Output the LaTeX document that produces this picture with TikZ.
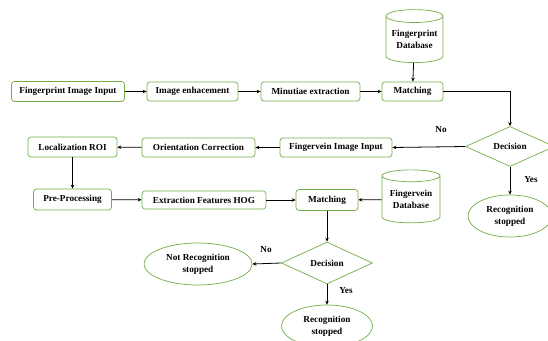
\documentclass[tikz,border=0pt]{standalone}
\usepackage{fontspec}
\setmainfont{Liberation Serif}
\usepackage{xcolor}
\definecolor{leaf}{HTML}{70AD47}
\usepackage{tikz}
\usetikzlibrary{arrows.meta,positioning,shapes.geometric}

\begin{document}
\begin{tikzpicture}[x=1pt, y=-1pt,
  font=\fontsize{9.2}{12}\selectfont\bfseries,
  stage/.style={draw=leaf, fill=white, rounded corners=3pt, align=center, inner sep=0pt, line width=0.7pt, minimum height=19pt},
  dbase/.style={draw=leaf, fill=white, cylinder, shape border rotate=90, aspect=0.28, align=center, inner sep=0pt, line width=0.7pt, minimum height=53pt, minimum width=57pt},
  choice/.style={draw=leaf, diamond, inner sep=0pt, line width=0.7pt, minimum width=89pt, minimum height=40pt},
  oval/.style={draw=leaf, ellipse, align=center, inner sep=0pt, line width=0.7pt, minimum height=42pt},
  rotulo/.style={inner sep=0pt},
  link/.style={-{Stealth[length=4pt, width=3.5pt]}, line width=0.8pt, color=black}]
  \useasboundingbox (0,0) rectangle (548,340);
  % Fingerprint
  \node[stage, minimum width=113pt, minimum height=20pt] (fpin) at (68,91.5) {Fingerprint Image Input};
  \node[stage, minimum width=91pt] (enh) at (192.5,91.5) {Image enhacement};
  \node[stage, minimum width=99pt] (minu) at (310.5,91.5) {Minutiae extraction};
  \node[stage, minimum width=61pt] (match1) at (412.5,91.5) {Matching};
  \node[dbase] (fpdb) at (414.5,39.5) {Fingerprint\\Database};
  \node[choice] (dec1) at (510,146.5) {Decision};
  \node[oval, minimum width=84pt] (rec1) at (510,216) {Recognition\\stopped};
  \node[rotulo] (no1) at (441,130) {No};
  \node[rotulo] (yes1) at (531,180) {Yes};
  % Fingervein
  \node[stage, minimum width=112pt] (fvin) at (336,147.5) {Fingervein Image Input};
  \node[stage, minimum width=113pt] (orient) at (198.5,147.5) {Orientation Correction};
  \node[stage, minimum width=89pt, minimum height=20pt] (roi) at (72.5,147) {Localization ROI};
  \node[stage, minimum width=78pt, minimum height=21pt] (pre) at (72.5,199.5) {Pre-Processing};
  \node[stage, minimum width=124pt, minimum height=18pt] (hog) at (204,200) {Extraction Features HOG};
  \node[stage, minimum width=62pt, minimum height=21pt] (match2) at (327,200) {Matching};
  \node[dbase, minimum width=58pt] (fvdb) at (411,199.5) {Fingervein\\Database};
  \node[choice, minimum width=91pt, minimum height=42pt] (dec2) at (327,263) {Decision};
  \node[oval, minimum width=108pt] (notrec) at (198,264) {Not Recognition\\stopped};
  \node[oval, minimum width=91pt] (rec2) at (327,326) {Recognition\\stopped};
  \node[rotulo] (no2) at (266,250) {No};
  \node[rotulo] (yes2) at (346,291) {Yes};
  % connectors
  \draw[link] (fpin) -- (enh);
  \draw[link] (enh) -- (minu);
  \draw[link] (minu) -- (match1);
  \draw[link] (fpdb) -- (match1);
  \draw[link] (match1.east) -| (dec1.north);
  \draw[link] (dec1.south) -- (rec1.north);
  \draw[link] (dec1.west) -- (fvin.east);
  \draw[link] (fvin) -- (orient);
  \draw[link] (orient) -- (roi);
  \draw[link] (roi) -- (pre);
  \draw[link] (pre) -- (hog);
  \draw[link] (hog) -- (match2);
  \draw[link] (fvdb) -- (match2);
  \draw[link] (match2.south) -- (dec2.north);
  \draw[link] (dec2.west) -- (notrec.east);
  \draw[link] (dec2.south) -- (rec2.north);
\end{tikzpicture}
\end{document}
